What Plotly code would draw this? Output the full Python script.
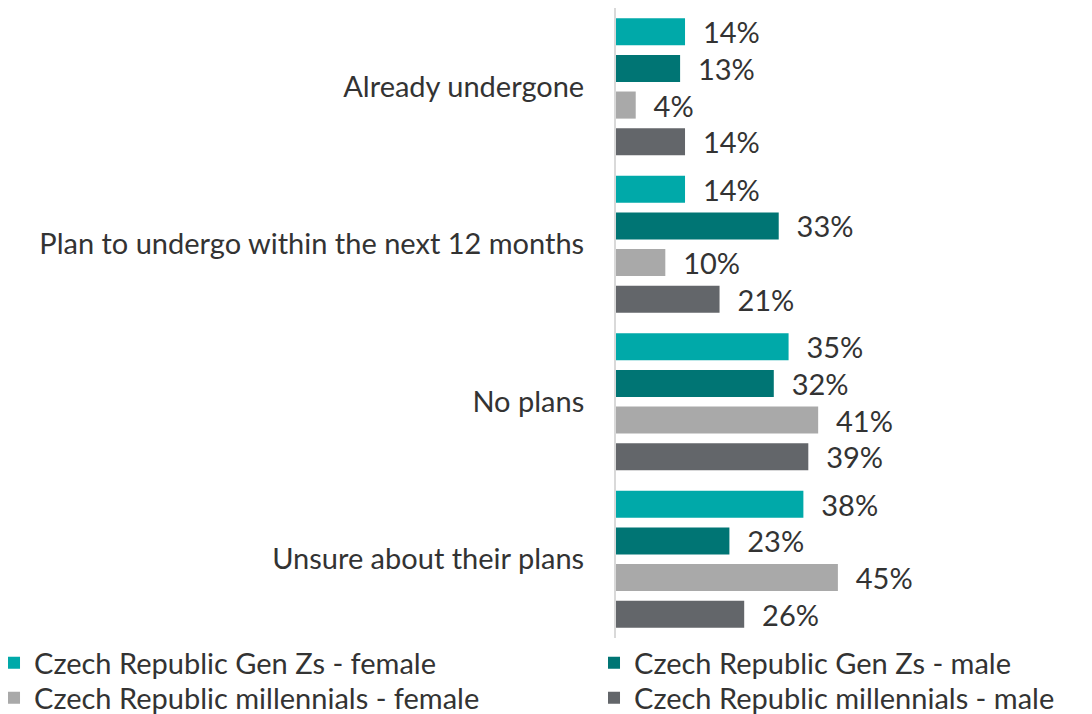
"""Horizontal grouped bar chart: Czech Republic Gen Zs vs millennials plans."""

import plotly.graph_objects as go

CATEGORIES = [
    "Already undergone",
    "Plan to undergo within the next 12 months",
    "No plans",
    "Unsure about their plans",
]

SERIES_NAMES = [
    "Czech Republic Gen Zs - female",
    "Czech Republic Gen Zs - male",
    "Czech Republic millennials - female",
    "Czech Republic millennials - male",
]

GENZ_FEMALE = [14, 14, 35, 38]
GENZ_MALE = [13, 33, 32, 23]
MILL_FEMALE = [4, 10, 41, 45]
MILL_MALE = [14, 21, 39, 26]

COLORS = ["#00A9A9", "#007574", "#A9A9A9", "#63666A"]
# one legend per entry so the 2x2 grid below the chart can be placed exactly
LEGENDS = ["legend", "legend2", "legend3", "legend4"]

FONT = "Lato"
TEXT_COLOR = "#333333"
FONT_SIZE = 29

fig = go.Figure()
for name, values, color, legend in zip(
    SERIES_NAMES, [GENZ_FEMALE, GENZ_MALE, MILL_FEMALE, MILL_MALE], COLORS, LEGENDS
):
    fig.add_trace(
        go.Bar(
            name=name,
            y=CATEGORIES,
            x=values,
            orientation="h",
            marker={"color": color, "line": {"width": 0}},
            texttemplate="\u00a0\u00a0%{x}%",
            textposition="outside",
            constraintext="none",
            textfont={"family": FONT, "size": FONT_SIZE, "color": TEXT_COLOR},
            cliponaxis=False,
            legend=legend,
        )
    )

legend_common = {
    "orientation": "v",
    "xanchor": "left",
    "yanchor": "middle",
    "font": {"family": FONT, "size": FONT_SIZE, "color": TEXT_COLOR},
    "itemwidth": 30,
    "tracegroupgap": 0,
    "bgcolor": "rgba(0,0,0,0)",
}
COL_X = [-1.3405, -0.0474]
ROW_Y = [-0.0397, -0.0952]

fig.update_layout(
    width=1092,
    height=714,
    barmode="group",
    bargap=0.07,
    bargroupgap=0.26,
    plot_bgcolor="white",
    paper_bgcolor="white",
    font={"family": FONT, "size": FONT_SIZE, "color": TEXT_COLOR},
    margin={"l": 608, "r": 20, "t": 0, "b": 84, "autoexpand": False},
    showlegend=True,
    legend={**legend_common, "x": COL_X[0], "y": ROW_Y[0]},
    legend2={**legend_common, "x": COL_X[1], "y": ROW_Y[0]},
    legend3={**legend_common, "x": COL_X[0], "y": ROW_Y[1]},
    legend4={**legend_common, "x": COL_X[1], "y": ROW_Y[1]},
    xaxis={
        "range": [0, 94.1],
        "visible": False,
        "showgrid": False,
        "zeroline": False,
    },
    yaxis={
        "autorange": "reversed",
        "showline": True,
        "linecolor": "#D9D9D9",
        "linewidth": 2,
        "showgrid": False,
        "ticks": "",
        "ticklabelstandoff": 24,
        "tickfont": {"family": FONT, "size": FONT_SIZE, "color": TEXT_COLOR},
    },
)

fig.write_html("out.html")
